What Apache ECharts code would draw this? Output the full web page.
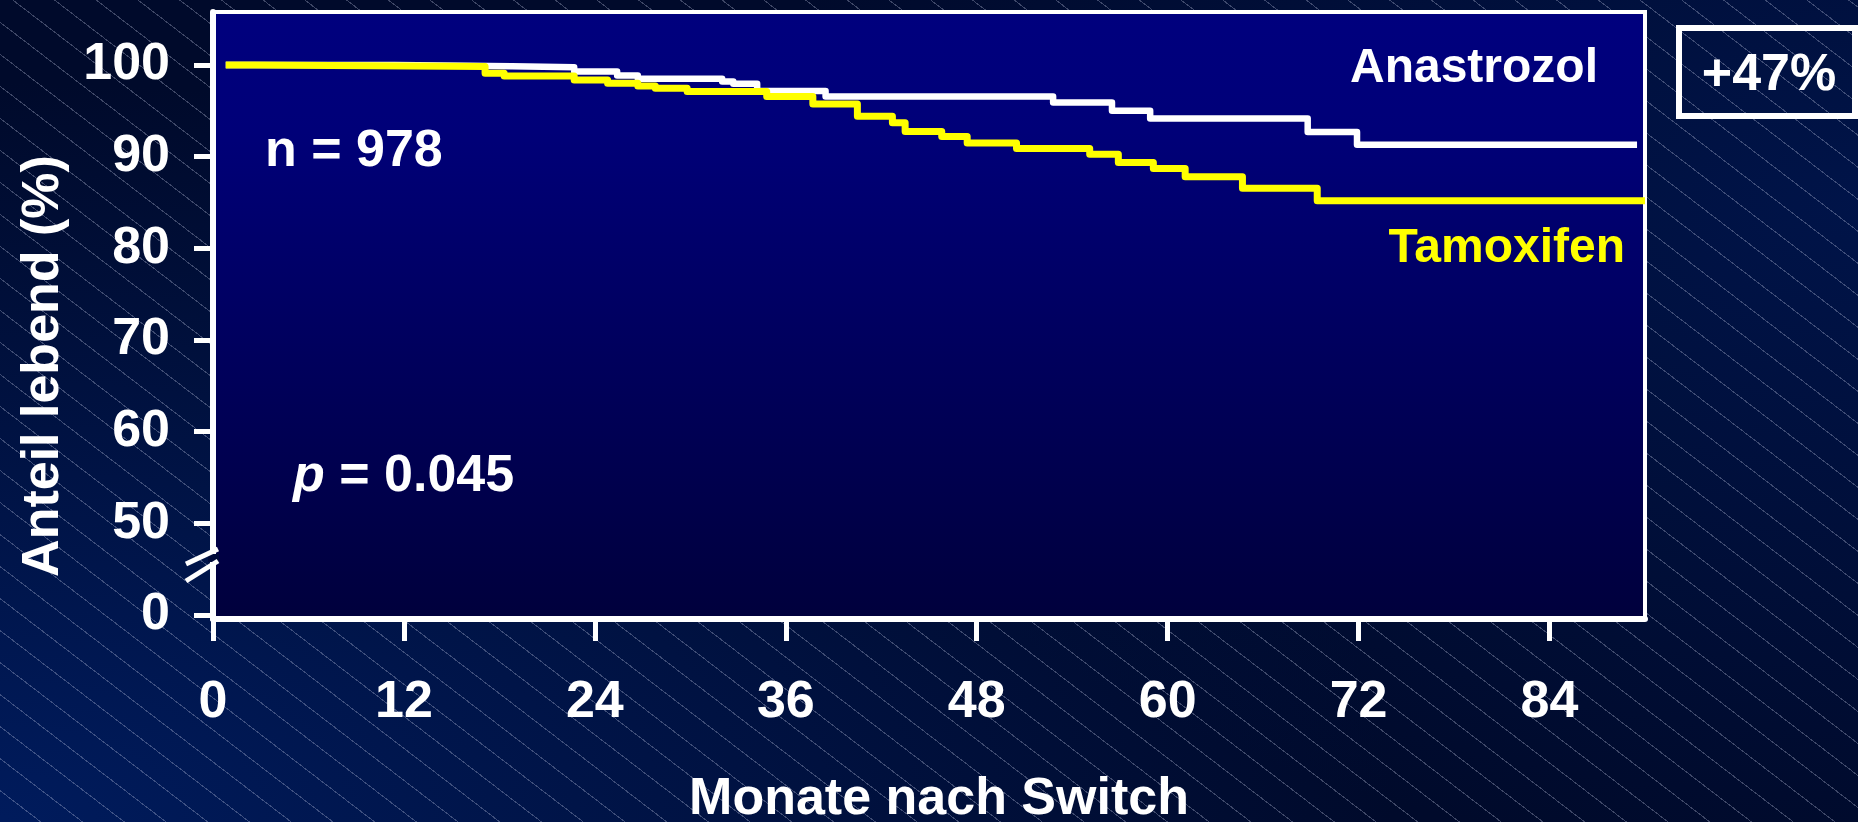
<!DOCTYPE html>
<html>
<head>
<meta charset="utf-8">
<script src="https://cdn.jsdelivr.net/npm/echarts@6/dist/echarts.min.js"></script>
<style>
  html, body { margin: 0; padding: 0; width: 1858px; height: 822px; overflow: hidden; }
  #chart {
    width: 1858px;
    height: 822px;
    /* hatched slide background */
    background:
      repeating-linear-gradient(37.5deg, rgba(0,0,0,0) 0px, rgba(0,0,0,0) 24.4px, rgba(205,210,235,0.3) 24.4px, rgba(205,210,235,0.3) 25.4px),
      radial-gradient(ellipse 75% 90% at 0% 100%, rgba(0,28,95,0.95), rgba(0,28,95,0) 100%),
      radial-gradient(ellipse 60% 80% at 100% 25%, rgba(0,22,80,0.8), rgba(0,22,80,0) 100%),
      #000a2b;
  }
</style>
</head>
<body>
<div id="chart"></div>
<script>
// Anastrozol (white) - Kaplan-Meier steps: month of event, survival % after it
const anaMonths = [0.8, 11.4, 18.8, 22.7, 25.4, 26.7, 32.0, 32.7, 34.2, 38.5, 52.8, 56.5, 58.9, 68.8, 71.9, 89.5];
const anaValues = [100, 99.85, 99.75, 99.3, 98.85, 98.5, 98.2, 97.95, 97.15, 96.55, 95.9, 95.0, 94.15, 92.7, 91.3, 91.3];

// Tamoxifen (yellow)
const tamMonths = [0.8, 2.6, 17.1, 18.3, 22.7, 24.8, 26.7, 27.8, 29.8, 34.8, 37.7, 40.5, 42.7, 43.5, 45.8, 47.4, 50.5, 55.1, 56.9, 59.1, 61.1, 64.7, 69.4, 90];
const tamValues = [100, 99.84, 99.1, 98.8, 98.36, 98.0, 97.7, 97.45, 97.1, 96.55, 95.75, 94.4, 93.7, 92.75, 92.2, 91.5, 90.9, 90.25, 89.35, 88.7, 87.8, 86.55, 85.2, 85.2];

// ticks
const xTicks = [0, 12, 24, 36, 48, 60, 72, 84];
const yTicks = [40, 50, 60, 70, 80, 90, 100];       // 40 sits at the axis break
const yTickLabels = ['0', '50', '60', '70', '80', '90', '100'];

const FONT = "'Liberation Sans', Arial, sans-serif";

const pairs = (xs, ys) => xs.map((x, i) => [x, ys[i]]);

const chart = echarts.init(document.getElementById('chart'), null, { renderer: 'canvas' });

const option = {
  animation: false,
  backgroundColor: 'transparent',
  grid: {
    left: 213,
    right: 213,
    top: 12,
    bottom: 203,
    outerBoundsMode: 'none',
    show: true,
    borderColor: '#ffffff',
    borderWidth: 4,
    backgroundColor: {
      type: 'linear', x: 0, y: 0, x2: 0, y2: 1,
      colorStops: [
        { offset: 0, color: '#00007e' },
        { offset: 0.2, color: '#000078' },
        { offset: 1, color: '#00003c' }
      ]
    }
  },
  xAxis: {
    type: 'value',
    min: 0,
    max: 90,
    name: 'Monate nach Switch',
    nameLocation: 'middle',
    nameGap: 155,
    nameTextStyle: {
      color: '#fff', fontSize: 52, fontWeight: 'bold', fontFamily: FONT,
      padding: [0, 0, 0, 20]
    },
    axisLine: { show: true, lineStyle: { color: '#fff', width: 6 } },
    axisTick: {
      show: true, customValues: xTicks, length: 22,
      lineStyle: { color: '#fff', width: 5 }
    },
    axisLabel: {
      customValues: xTicks, margin: 58,
      color: '#fff', fontSize: 52, fontWeight: 'bold', fontFamily: FONT
    },
    splitLine: { show: false }
  },
  yAxis: {
    type: 'value',
    min: 39.56,
    max: 105.78,
    name: 'Anteil lebend (%)',
    nameLocation: 'middle',
    nameRotate: 90,
    nameGap: 143,
    nameTextStyle: {
      color: '#fff', fontSize: 52, fontWeight: 'bold', fontFamily: FONT,
      padding: [0, 101, 0, 0]
    },
    axisLine: { show: true, lineStyle: { color: '#fff', width: 6 } },
    axisTick: {
      show: true, customValues: yTicks, length: 19,
      lineStyle: { color: '#fff', width: 5 }
    },
    axisLabel: {
      customValues: yTicks, margin: 43,
      color: '#fff', fontSize: 52, fontWeight: 'bold', fontFamily: FONT,
      formatter: v => yTickLabels[yTicks.indexOf(v)] ?? ''
    },
    splitLine: { show: false }
  },
  series: [
    {
      name: 'Anastrozol',
      type: 'line',
      step: 'end',
      symbol: 'none',
      data: pairs(anaMonths, anaValues),
      lineStyle: { color: '#ffffff', width: 6.5, join: 'round' },
      z: 3
    },
    {
      name: 'Tamoxifen',
      type: 'line',
      step: 'end',
      symbol: 'none',
      data: pairs(tamMonths, tamValues),
      lineStyle: { color: '#ffff00', width: 7, join: 'round' },
      z: 4
    }
  ],
  graphic: [
    {
      type: 'text', x: 265, y: 152, z: 100,
      style: { text: 'n = 978', fill: '#fff', font: `bold 52px ${FONT}`, align: 'left', verticalAlign: 'middle' }
    },
    {
      type: 'text', x: 293, y: 477, z: 100,
      style: {
        text: '{i|p} = 0.045', fill: '#fff', font: `bold 52px ${FONT}`, align: 'left', verticalAlign: 'middle',
        rich: { i: { fontStyle: 'italic', fontWeight: 'bold', fontSize: 52, fontFamily: FONT, fill: '#fff' } }
      }
    },
    {
      type: 'text', x: 1598, y: 69, z: 100,
      style: { text: 'Anastrozol', fill: '#fff', font: `bold 48px ${FONT}`, align: 'right', verticalAlign: 'middle' }
    },
    {
      type: 'text', x: 1625, y: 249, z: 100,
      style: { text: 'Tamoxifen', fill: '#ffff00', font: `bold 48px ${FONT}`, align: 'right', verticalAlign: 'middle' }
    },
    {
      type: 'rect', z: 100,
      shape: { x: 1679, y: 28, width: 176, height: 88 },
      style: { fill: 'none', stroke: '#fff', lineWidth: 6 }
    },
    {
      type: 'text', x: 1769, y: 76, z: 100,
      style: { text: '+47%', fill: '#fff', font: `bold 52px ${FONT}`, align: 'center', verticalAlign: 'middle' }
    },
    // axis break marks
    {
      type: 'rect', z: 100,
      shape: { x: 208, y: 554, width: 11, height: 8 },
      style: { fill: '#000a3a' }
    },
    {
      type: 'line', z: 101,
      shape: { x1: 186, y1: 564, x2: 218, y2: 549 },
      style: { stroke: '#fff', lineWidth: 5 }
    },
    {
      type: 'line', z: 101,
      shape: { x1: 186, y1: 581, x2: 218, y2: 561 },
      style: { stroke: '#fff', lineWidth: 5 }
    }
  ]
};

chart.setOption(option);
</script>
</body>
</html>
